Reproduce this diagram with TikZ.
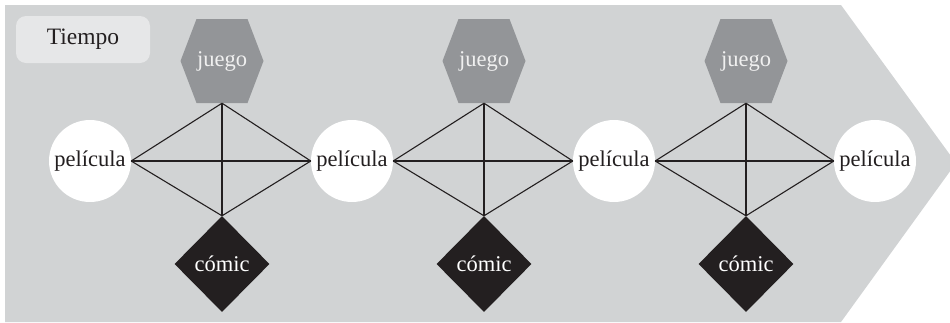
\documentclass[tikz,border=0pt]{standalone}
\usepackage{fontspec}
\setmainfont{Liberation Serif}
\usetikzlibrary{shapes.geometric}
\definecolor{bggray}{HTML}{D1D3D4}
\definecolor{boxgray}{HTML}{E6E7E8}
\definecolor{hexfill}{HTML}{939598}
\definecolor{hextext}{HTML}{F0F0F0}
\definecolor{inkblack}{HTML}{231F20}
\tikzset{
  labelfont/.style={font=\fontsize{22.5}{26}\selectfont},
  pelinode/.style={circle, minimum size=82pt, inner sep=0pt, fill=white, text=inkblack, labelfont},
  hexnode/.style={rectangle, minimum width=83pt, minimum height=84pt, inner sep=0pt, text=hextext, labelfont,
    path picture={\fill[hexfill] ([xshift=16pt]path picture bounding box.north west) -- ([xshift=-16pt]path picture bounding box.north east) -- (path picture bounding box.east) -- ([xshift=-16pt]path picture bounding box.south east) -- ([xshift=16pt]path picture bounding box.south west) -- (path picture bounding box.west) -- cycle;}},
  comicnode/.style={diamond, aspect=1, minimum width=95pt, minimum height=96pt, inner sep=0pt, fill=inkblack, text=white, labelfont},
  tiemponode/.style={rectangle, rounded corners=10pt, fill=boxgray, minimum width=134pt, minimum height=47pt, inner sep=0pt, text=inkblack, font=\fontsize{23.5}{27}\selectfont},
  edge/.style={draw=inkblack, line width=1.1pt}
}
\begin{document}
\begin{tikzpicture}[x=1pt, y=-1pt]
\useasboundingbox (0,0) rectangle (950,322);
\fill[white] (0,0) rectangle (950,322);
\begin{scope}
\clip (0,0) rectangle (950,322);
\fill[bggray] (5,5) -- (841,5) -- (956,163) -- (841,322) -- (5,322) -- cycle;
\end{scope}
\node[tiemponode] (tiempo) at (83,39.5) {Tiempo};
\foreach \i/\x in {1/90, 2/352, 3/614, 4/875} {
  \node[pelinode] (p\i) at (\x,161) {película};
}
\foreach \i/\x in {1/222, 2/484, 3/746} {
  \node[hexnode] (j\i) at (\x,61) {juego};
  \node[comicnode] (c\i) at (\x,264) {cómic};
}
\foreach \i/\n in {1/2, 2/3, 3/4} {
  \draw[edge] (p\i.east) -- (p\n.west);
  \draw[edge] (j\i.south) -- (c\i.north);
  \draw[edge] (j\i.south) -- (p\i.east);
  \draw[edge] (j\i.south) -- (p\n.west);
  \draw[edge] (c\i.north) -- (p\i.east);
  \draw[edge] (c\i.north) -- (p\n.west);
}
\end{tikzpicture}
\end{document}
